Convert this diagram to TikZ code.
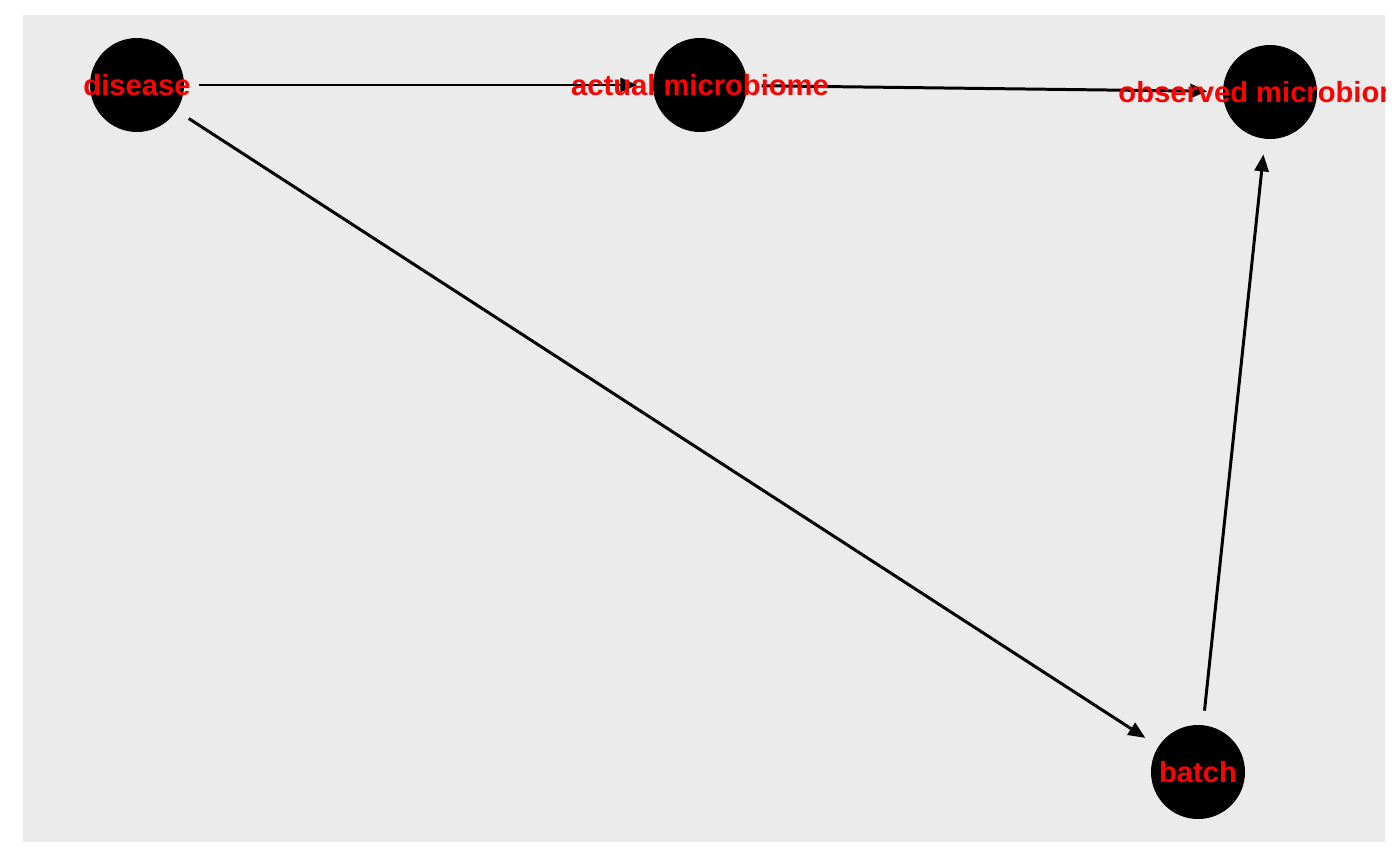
\documentclass[tikz,border=0pt]{standalone}
\usepackage{fontspec}
\setmainfont{Liberation Sans}
\usetikzlibrary{arrows.meta}
\definecolor{panelgray}{HTML}{EBEBEB}
\tikzset{
  dagnode/.style={circle,fill=black,minimum size=0.94cm,inner sep=0pt},
  daglabel/.style={text=red,font=\fontsize{8.3}{10}\selectfont\bfseries,inner sep=0pt},
  dagedge/.style={line width=0.85pt,-{Triangle[length=0.17cm,width=0.14cm]},shorten <=0.14cm,shorten >=0.15cm}
}
\begin{document}
\begin{tikzpicture}
\useasboundingbox (0,0) rectangle (14,8.65);
\fill[panelgray] (0.23,0.23) rectangle (13.85,8.50);
\begin{scope}
\clip (0.23,0.23) rectangle (13.85,8.50);
\node[dagnode] (disease) at (1.37,7.80) {};
\node[dagnode] (actual) at (7.00,7.80) {};
\node[dagnode] (observed) at (12.70,7.73) {};
\node[dagnode] (batch) at (11.98,0.93) {};
\draw[dagedge] (disease) -- (actual);
\draw[dagedge] (actual) -- (observed);
\draw[dagedge] (disease) -- (batch);
\draw[dagedge] (batch) -- (observed);
\node[daglabel] (disease label) at (disease) {disease};
\node[daglabel] (actual label) at (actual) {actual microbiome};
\node[daglabel] (observed label) at (observed) {observed microbiome};
\node[daglabel] (batch label) at (batch) {batch};
\end{scope}
\end{tikzpicture}
\end{document}
